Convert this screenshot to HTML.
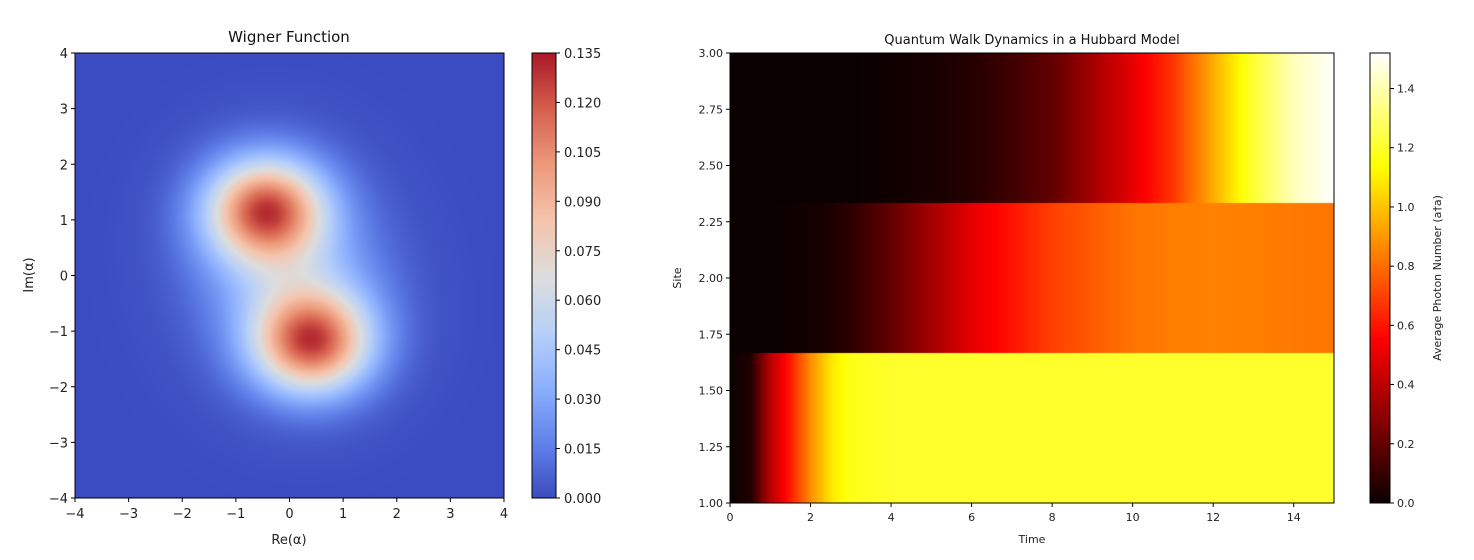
<!DOCTYPE html>
<html><head><meta charset="utf-8"><style>
body{margin:0;background:#fff;width:1474px;height:560px;overflow:hidden;position:relative;font-family:"DejaVu Sans","Liberation Sans",sans-serif}
canvas{position:absolute}
svg{position:absolute;left:0;top:0}
</style></head><body>
<canvas id="wig" style="left:75px;top:53px" width="429" height="445"></canvas>
<canvas id="wcb" style="left:532px;top:53px" width="24" height="445"></canvas>
<canvas id="qw" style="left:730px;top:53px" width="604" height="450"></canvas>
<canvas id="qcb" style="left:1370px;top:53px" width="20" height="450"></canvas>
<svg id="ov" width="1474" height="560"></svg>
<script>
// ---- Wigner data ----
const blobX=[-0.45,0.4,0,-0.6,0.6];
const blobY=[1.2,-1.2,0,0.9,-0.9];
const blobAmp=[0.098,0.098,0.028,0.016,0.016];
const blobSigmaX=[0.75,0.75,1.15,0.95,0.95];
const blobSigmaY=[0.62,0.62,1.25,0.95,0.95];
const wTicks=[-4,-3,-2,-1,0,1,2,3,4];
const wCbTicks=[0,0.015,0.03,0.045,0.06,0.075,0.09,0.105,0.12,0.135];
// ---- Quantum walk data ----
const qTimes=[0,0.5,1,1.5,2,2.5,3,4,5,6,7,8,9,10,11,12,13,14,15];
const site1=[0,0.05,0.4,0.62,0.88,1.08,1.17,1.2,1.2,1.2,1.2,1.2,1.2,1.2,1.2,1.2,1.2,1.2,1.2];
const site2=[0,0,0,0.01,0.02,0.04,0.08,0.2,0.35,0.5,0.6,0.7,0.76,0.82,0.84,0.85,0.84,0.83,0.82];
const site3=[0,0,0,0,0,0,0,0.01,0.03,0.06,0.12,0.2,0.35,0.5,0.68,0.95,1.22,1.42,1.52];
const qXTicks=[0,2,4,6,8,10,12,14];
const qYTicks=[1.00,1.25,1.50,1.75,2.00,2.25,2.50,2.75,3.00];
const qCbTicks=[0,0.2,0.4,0.6,0.8,1.0,1.2,1.4];

const cw=[[0,59,76,192],[0.125,98,130,234],[0.25,141,176,254],[0.375,184,208,249],[0.5,221,221,221],[0.625,245,196,173],[0.75,236,154,123],[0.875,214,96,77],[1,170,25,40]];
function coolwarm(f){f=Math.max(0,Math.min(1,f));for(let i=1;i<cw.length;i++){if(f<=cw[i][0]){const a=cw[i-1],b=cw[i],t=(f-a[0])/(b[0]-a[0]);return [a[1]+t*(b[1]-a[1]),a[2]+t*(b[2]-a[2]),a[3]+t*(b[3]-a[3])];}}return cw[8].slice(1);}
function hot(f){f=Math.max(0,Math.min(1,f));return [255*Math.min(1,0.0416+f*0.9584/0.365),255*Math.max(0,Math.min(1,(f-0.365)/0.381)),255*Math.max(0,Math.min(1,(f-0.746)/0.254))];}
function wfun(x,y){let s=0;for(let i=0;i<blobX.length;i++){const d=(x-blobX[i])**2/(2*blobSigmaX[i]**2)+(y-blobY[i])**2/(2*blobSigmaY[i]**2);s+=blobAmp[i]*Math.exp(-d);}return s;}
(function(){const c=document.getElementById('wig'),g=c.getContext('2d'),W=c.width,H=c.height,im=g.createImageData(W,H);
for(let j=0;j<H;j++)for(let i=0;i<W;i++){const x=-4+8*i/W,y=4-8*j/H;const col=coolwarm(wfun(x,y)/0.135);const k=4*(j*W+i);im.data[k]=col[0];im.data[k+1]=col[1];im.data[k+2]=col[2];im.data[k+3]=255;}
g.putImageData(im,0,0);
const cb=document.getElementById('wcb'),h=cb.getContext('2d');for(let j=0;j<cb.height;j++){const col=coolwarm(1-j/cb.height);h.fillStyle=`rgb(${col.map(Math.round)})`;h.fillRect(0,j,cb.width,1);}})();
function interp(arr,t){for(let i=1;i<qTimes.length;i++){if(t<=qTimes[i]){const u=(t-qTimes[i-1])/(qTimes[i]-qTimes[i-1]);return arr[i-1]+u*(arr[i]-arr[i-1]);}}return arr[arr.length-1];}
(function(){const c=document.getElementById('qw'),g=c.getContext('2d'),W=c.width,H=c.height;const rows=[site3,site2,site1];
for(let r=0;r<3;r++){const y0=Math.round(r*H/3),y1=Math.round((r+1)*H/3);for(let i=0;i<W;i++){const t=15*i/W;const col=hot(interp(rows[r],t)/1.52);g.fillStyle=`rgb(${col.map(Math.round)})`;g.fillRect(i,y0,1,y1-y0);}}
const cb=document.getElementById('qcb'),h=cb.getContext('2d');for(let j=0;j<cb.height;j++){const col=hot(1-j/cb.height);h.fillStyle=`rgb(${col.map(Math.round)})`;h.fillRect(0,j,cb.width,1);}})();
const ov=document.getElementById('ov');const NS='http://www.w3.org/2000/svg';
function el(tag,attrs,txt){const e=document.createElementNS(NS,tag);for(const k in attrs)e.setAttribute(k,attrs[k]);if(txt!==undefined)e.textContent=txt;ov.appendChild(e);return e;}
function fmt(v){return (v<0?'\u2212':'')+Math.abs(v);}
let e;
e=el('rect',{x:75,y:53,width:429,height:445,fill:'none',stroke:'#000','stroke-width':1});


wTicks.forEach(v=>{const x=75+(v+4)/8*429;el('line',{x1:x,x2:x,y1:498,y2:502,stroke:'#000'});
e=el('text',{x:x,y:518,'font-size':13,'text-anchor':'middle',fill:'#222'},fmt(v));


const y=498-(v+4)/8*445;el('line',{x1:71,x2:75,y1:y,y2:y,stroke:'#000'});
e=el('text',{x:68,y:y+5,'font-size':13,'text-anchor':'end',fill:'#222'},fmt(v));

});
e=el('text',{x:289,y:42,'font-size':15,'text-anchor':'middle',fill:'#111'},'Wigner Function');


e=el('text',{x:289,y:544,'font-size':13,'text-anchor':'middle',fill:'#222'},'Re(α)');


e=el('text',{x:0,y:0,'font-size':13,'text-anchor':'middle',fill:'#222',transform:'translate(33,275) rotate(-90)'},'Im(α)');


el('rect',{x:532,y:53,width:24,height:445,fill:'none',stroke:'#000'});
wCbTicks.forEach(v=>{const y=498-v/0.135*445;el('line',{x1:556,x2:560,y1:y,y2:y,stroke:'#000'});
e=el('text',{x:564,y:y+5,'font-size':13,fill:'#222'},v.toFixed(3));

});
e=el('rect',{x:730,y:53,width:604,height:450,fill:'none',stroke:'#000'});


qXTicks.forEach(v=>{const x=730+v/15*604;el('line',{x1:x,x2:x,y1:503,y2:507,stroke:'#000'});
e=el('text',{x:x,y:521,'font-size':11,'text-anchor':'middle',fill:'#222'},String(v));

});
qYTicks.forEach(v=>{const y=503-(v-1)/2*450;el('line',{x1:726,x2:730,y1:y,y2:y,stroke:'#000'});
e=el('text',{x:723,y:y+4,'font-size':11,'text-anchor':'end',fill:'#222'},v.toFixed(2));

});
e=el('text',{x:1032,y:44,'font-size':13,'text-anchor':'middle',fill:'#111'},'Quantum Walk Dynamics in a Hubbard Model');


e=el('text',{x:1032,y:543,'font-size':11,'text-anchor':'middle',fill:'#222'},'Time');


e=el('text',{x:0,y:0,'font-size':11,'text-anchor':'middle',fill:'#222',transform:'translate(681,278) rotate(-90)'},'Site');


el('rect',{x:1370,y:53,width:20,height:450,fill:'none',stroke:'#000'});
qCbTicks.forEach(v=>{const y=503-v/1.52*450;el('line',{x1:1390,x2:1394,y1:y,y2:y,stroke:'#000'});
e=el('text',{x:1397,y:y+4,'font-size':11,fill:'#222'},v.toFixed(1));

});
e=el('text',{x:0,y:0,'font-size':11,'text-anchor':'middle',fill:'#222',transform:'translate(1441,278) rotate(-90)'},'Average Photon Number (a†a)');


</script>
</body></html>
